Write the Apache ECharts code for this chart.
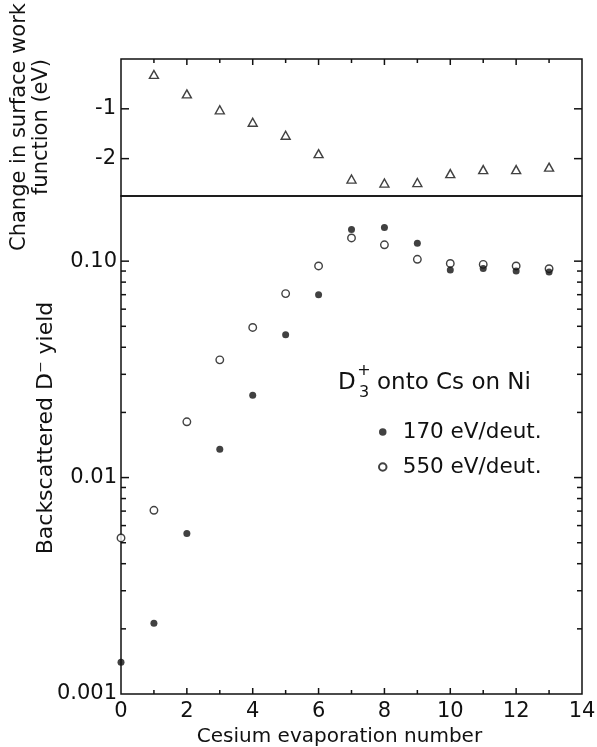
<!DOCTYPE html>
<html>
<head>
<meta charset="utf-8">
<script src="https://cdn.jsdelivr.net/npm/echarts@6/dist/echarts.min.js"></script>
<style>
  html, body { margin: 0; padding: 0; background: #fff; }
  #chart { width: 597px; height: 747px; }
</style>
</head>
<body>
<div id="chart"></div>
<script>
// Cesium evaporation steps (x axis shared by both panels)
const evapNumber = [0, 1, 2, 3, 4, 5, 6, 7, 8, 9, 10, 11, 12, 13];

// Upper panel: change in surface work function (eV), measured from evaporation 1 on
const workFnEvap = [1, 2, 3, 4, 5, 6, 7, 8, 9, 10, 11, 12, 13];
const workFnChange = [-0.31, -0.70, -1.02, -1.27, -1.53, -1.90, -2.41, -2.49, -2.48, -2.30, -2.22, -2.22, -2.17];

// Lower panel: backscattered D- yield for two incident energies
const yield170 = [0.0014, 0.00212, 0.00551, 0.0135, 0.0240, 0.0457, 0.070, 0.140, 0.143, 0.121, 0.091, 0.0925, 0.090, 0.089];
const yield550 = [0.00526, 0.00706, 0.0181, 0.0350, 0.0494, 0.0708, 0.095, 0.128, 0.119, 0.102, 0.0976, 0.0966, 0.095, 0.0923];

const seriesNames = ['170 eV/deut.', '550 eV/deut.'];

// Tick positions and printed labels
const xTickValues = [0, 1, 2, 3, 4, 5, 6, 7, 8, 9, 10, 11, 12, 13, 14];
const xLabelValues = [0, 2, 4, 6, 8, 10, 12, 14];
const workFnTicks = [-1, -2];
const yieldTicks = [0.001, 0.01, 0.1];
const yieldTickLabels = ['0.001', '0.01', '0.10'];
const yieldMinorTicks = [
  0.002, 0.003, 0.004, 0.005, 0.006, 0.007, 0.008, 0.009,
  0.02, 0.03, 0.04, 0.05, 0.06, 0.07, 0.08, 0.09
];

const FONT = 'DejaVu Sans';
const INK = '#111';
const labelStyle = { fontFamily: FONT, fontSize: 21, color: INK };

function yieldLabel(v) {
  for (let i = 0; i < yieldTicks.length; i++) {
    if (Math.abs(Math.log10(v) - Math.log10(yieldTicks[i])) < 1e-6) return yieldTickLabels[i];
  }
  return '';
}

function isIn(list, v) {
  return list.some(m => Math.abs(m - v) <= 1e-9 * Math.max(1e-3, Math.abs(m)));
}

// Inward tick marks drawn on the frame edges of a grid, placed through the axis scales.
// dim 'x': ticks on horizontal edges; dim 'y': ticks on vertical edges.
function tickSeries(xAxisIndex, yAxisIndex, dim, values, refValue, majors, sides, majorLen, minorLen) {
  return {
    type: 'custom',
    coordinateSystem: 'cartesian2d',
    xAxisIndex, yAxisIndex,
    silent: true, clip: false, z: 6,
    data: values.map(v => dim === 'x' ? [v, refValue] : [refValue, v]),
    renderItem(params, api) {
      const cs = params.coordSys;
      const v = api.value(dim === 'x' ? 0 : 1);
      const pt = api.coord([api.value(0), api.value(1)]);
      const len = isIn(majors, v) ? majorLen : minorLen;
      const style = { stroke: INK, lineWidth: 1.5 };
      const lines = sides.map(side => {
        let shape;
        if (side === 'top') shape = { x1: pt[0], y1: cs.y, x2: pt[0], y2: cs.y + len };
        else if (side === 'bottom') shape = { x1: pt[0], y1: cs.y + cs.height, x2: pt[0], y2: cs.y + cs.height - len };
        else if (side === 'left') shape = { x1: cs.x, y1: pt[1], x2: cs.x + len, y2: pt[1] };
        else shape = { x1: cs.x + cs.width, y1: pt[1], x2: cs.x + cs.width - len, y2: pt[1] };
        return { type: 'line', shape, style };
      });
      return { type: 'group', children: lines };
    }
  };
}

const chart = echarts.init(document.getElementById('chart'), null, { renderer: 'canvas' });

chart.setOption({
  animation: false,
  backgroundColor: '#fff',
  grid: [
    { left: 121, right: 15, top: 59, height: 137, outerBoundsMode: 'none', containLabel: false,
      show: true, borderColor: INK, borderWidth: 1.5, backgroundColor: 'transparent' },
    { left: 121, right: 15, top: 196, height: 498, outerBoundsMode: 'none', containLabel: false,
      show: true, borderColor: INK, borderWidth: 1.5, backgroundColor: 'transparent' }
  ],
  xAxis: [
    {
      gridIndex: 0, type: 'value', position: 'top', min: 0, max: 14, interval: 2,
      axisLine: { show: false }, axisTick: { show: false }, splitLine: { show: false },
      axisLabel: { show: false }
    },
    {
      gridIndex: 1, type: 'value', position: 'bottom', min: 0, max: 14, interval: 2,
      axisLine: { show: false, onZero: false }, axisTick: { show: false }, splitLine: { show: false },
      axisLabel: Object.assign({ show: true, margin: 7 }, labelStyle),
      name: 'Cesium evaporation number',
      nameLocation: 'middle',
      nameGap: 32,
      nameTextStyle: { fontFamily: FONT, fontSize: 20, color: INK, padding: [0, 24, 0, 0] }
    }
  ],
  yAxis: [
    {
      gridIndex: 0, type: 'value', position: 'left', min: -2.75, max: 0,
      axisLine: { show: false }, axisTick: { show: false }, splitLine: { show: false },
      axisLabel: Object.assign({ show: true, margin: 5, customValues: workFnTicks }, labelStyle)
    },
    {
      gridIndex: 1, type: 'log', logBase: 10, position: 'left', min: 0.001, max: 0.2,
      axisLine: { show: false }, axisTick: { show: false }, minorTick: { show: false },
      splitLine: { show: false }, minorSplitLine: { show: false },
      axisLabel: Object.assign({ show: true, margin: 4, showMaxLabel: false, formatter: yieldLabel }, labelStyle)
    }
  ],
  legend: {
    orient: 'vertical',
    left: 373,
    top: 415,
    itemWidth: 30,
    itemHeight: 7.5,
    itemGap: 11,
    selectedMode: false,
    data: seriesNames,
    textStyle: { fontFamily: FONT, fontSize: 21.5, color: INK, lineHeight: 24 }
  },
  graphic: [
    {
      type: 'text', x: 31, y: 127, rotation: Math.PI / 2,
      style: {
        text: 'Change in surface work\nfunction (eV)',
        fontFamily: FONT, fontSize: 21, fill: INK, lineHeight: 22,
        align: 'center', verticalAlign: 'middle'
      }
    },
    {
      type: 'text', x: 46, y: 428, rotation: Math.PI / 2,
      style: {
        text: 'Backscattered D⁻ yield',
        fontFamily: FONT, fontSize: 22, fill: INK,
        align: 'center', verticalAlign: 'middle'
      }
    },
    { type: 'text', x: 338, y: 383, style: { text: 'D', fontFamily: FONT, fontSize: 23, fill: INK, align: 'left', verticalAlign: 'middle' } },
    { type: 'text', x: 364, y: 371, style: { text: '+', fontFamily: FONT, fontSize: 16, fill: INK, align: 'center', verticalAlign: 'middle' } },
    { type: 'text', x: 364, y: 393, style: { text: '3', fontFamily: FONT, fontSize: 16, fill: INK, align: 'center', verticalAlign: 'middle' } },
    { type: 'text', x: 377, y: 383, style: { text: 'onto Cs on Ni', fontFamily: FONT, fontSize: 23, fill: INK, align: 'left', verticalAlign: 'middle' } }
  ],
  series: [
    {
      name: 'work function',
      type: 'scatter',
      xAxisIndex: 0, yAxisIndex: 0,
      symbol: 'triangle', symbolSize: [9, 8],
      itemStyle: { color: '#fff', borderColor: INK, borderWidth: 1.4 },
      data: workFnEvap.map((x, i) => [x, workFnChange[i]])
    },
    {
      name: seriesNames[0],
      type: 'scatter',
      xAxisIndex: 1, yAxisIndex: 1,
      symbol: 'circle', symbolSize: 7, z: 4,
      itemStyle: { color: INK },
      data: evapNumber.map((x, i) => [x, yield170[i]])
    },
    {
      name: seriesNames[1],
      type: 'scatter',
      xAxisIndex: 1, yAxisIndex: 1,
      symbol: 'circle', symbolSize: 7.5, z: 3,
      itemStyle: { color: '#fff', borderColor: INK, borderWidth: 1.4 },
      data: evapNumber.map((x, i) => [x, yield550[i]])
    },
    // frame ticks: top edge of the upper panel, bottom edge of the lower panel
    tickSeries(0, 0, 'x', xTickValues.slice(1, -1), -1, xLabelValues, ['top'], 6, 4),
    tickSeries(1, 1, 'x', xTickValues.slice(1, -1), 0.01, xLabelValues, ['bottom'], 6, 4),
    // left and right edges
    tickSeries(0, 0, 'y', workFnTicks, 7, workFnTicks, ['left', 'right'], 8, 5),
    tickSeries(1, 1, 'y', yieldTicks.slice(1).concat(yieldMinorTicks), 7, yieldTicks, ['left', 'right'], 8, 5)
  ]
});
</script>
</body>
</html>
